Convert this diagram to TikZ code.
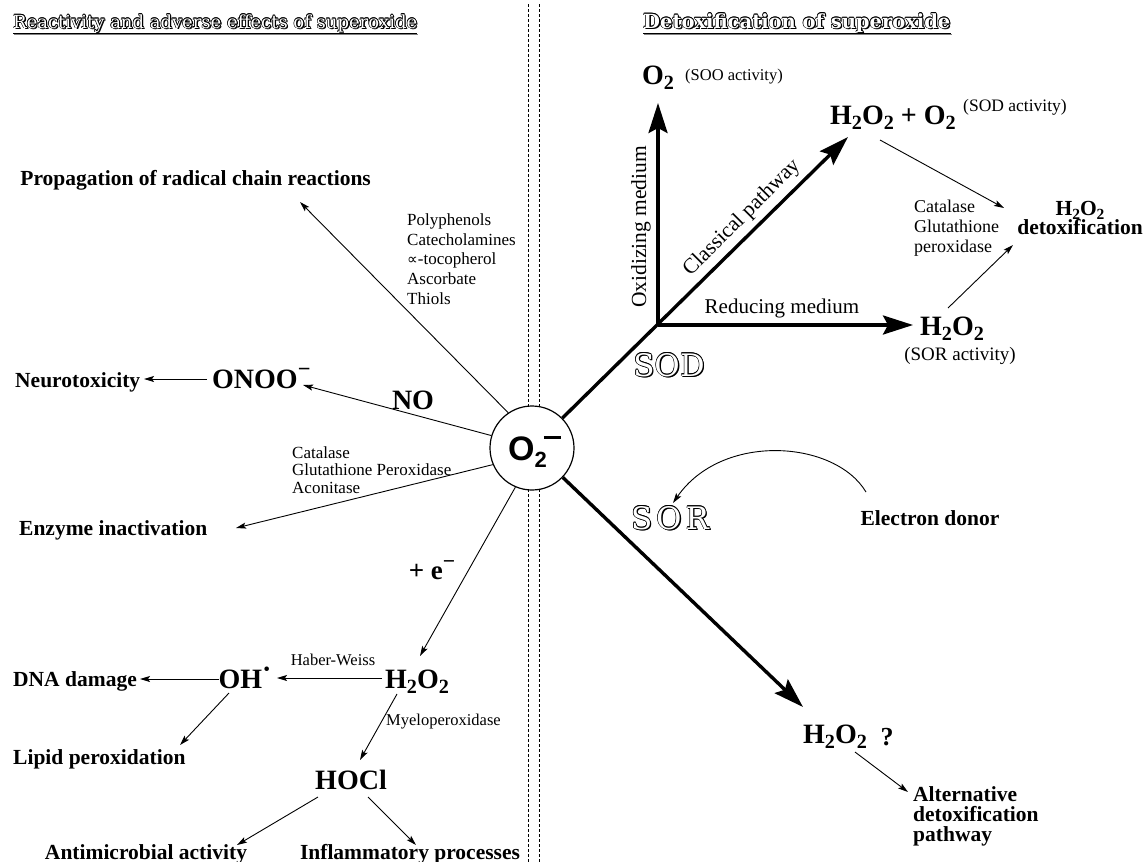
\documentclass[tikz,border=0pt]{standalone}
\usepackage{graphicx}
\usepackage{fontspec}
\setmainfont{Liberation Serif}
\newfontfamily\hsans{Liberation Sans}
\newfontfamily\hserif{DejaVu Serif}
\newfontfamily\dvsans{DejaVu Sans}
\usetikzlibrary{arrows.meta,calc}
\newcommand\sbs[1]{\raisebox{-0.2em}{\scalebox{0.72}{#1}}}
\newcommand\supm{\raisebox{0.42em}{\scalebox{0.8}{−}}}
\newcommand\otext[5]{%
  \foreach \dx/\dy [count=\k] in {1.3/-1.3, 0.9/-0.9, 0.55/0, -0.55/0, 0/0.55, 0/-0.55, 0.4/0.4, -0.4/0.4, 0.4/-0.4, -0.4/-0.4}{%
    \node[inner sep=0pt, #4, text=black] (#1-\k) at ($(#2,#3)+(\dx pt,\dy pt)$) {#5};}%
  \node[inner sep=0pt, #4, text=white] (#1) at (#2,#3) {#5};}
\begin{document}
\begin{tikzpicture}[x=1pt,y=-1pt,
 lbl/.style={font=\fontsize{21.5}{20}\selectfont\bfseries, inner sep=0pt},
 sm/.style={font=\fontsize{17}{19.6}\selectfont, inner sep=0pt, align=left},
 chem/.style={font=\fontsize{28}{30}\selectfont\bfseries, inner sep=0pt},
 arr/.style={line width=0.9pt, -{Stealth[length=10pt,width=6pt,inset=2pt]}},
 bigarr/.style={line width=3.4pt, -{Stealth[length=30pt,width=19pt,inset=5pt]}},
 sep/.style={line width=0.8pt, dash pattern=on 3pt off 2pt}]
\useasboundingbox[fill=white] (0,0) rectangle (1146,862);

% separator
\draw[sep] (528,4) -- (528,407);
\draw[sep] (539,4) -- (539,407);
\draw[sep] (528,489) -- (528,862);
\draw[sep] (539,489) -- (539,862);

% headers
\otext{hl}{13}{28}{anchor=base west, font=\hserif\fontsize{18}{20}\selectfont}{Reactivity and adverse effects of superoxide}
\draw[gray, line width=1pt] ($(hl.base west)+(1pt,-6pt)$) -- ($(hl.base east)+(1pt,-6pt)$);
\draw[line width=0.9pt] ($(hl.base west)+(0,-5pt)$) -- ($(hl.base east)+(0,-5pt)$);
\otext{hr}{643}{28}{anchor=base west, font=\hserif\bfseries\fontsize{19.5}{20}\selectfont}{Detoxification of superoxide}
\draw[gray, line width=1pt] ($(hr.base west)+(1pt,-6pt)$) -- ($(hr.base east)+(1pt,-6pt)$);
\draw[line width=0.9pt] ($(hr.base west)+(0,-5pt)$) -- ($(hr.base east)+(0,-5pt)$);

% central superoxide
\node[circle, draw, line width=1.2pt, minimum size=84pt, inner sep=0pt] (c) at (532,448) {};
\node[anchor=base west, inner sep=0pt, font=\hsans\bfseries\fontsize{34}{34}\selectfont] (o2m) at (508,460) {O\raisebox{-7pt}{\fontsize{22}{22}\selectfont 2}\kern-3pt\raisebox{21.5pt}{\rule{17pt}{2.6pt}}};

% ---------- right side ----------
\coordinate (o) at (658,325);
\coordinate (t1) at (848,137);
\node[chem, anchor=base west] (o2top) at (642,84) {O\sbs{2}};
\node[font=\fontsize{16.5}{18}\selectfont, inner sep=0pt, anchor=base west] (sooact) at (685,80) {(SOO activity)};
\coordinate (tv) at (658,103);
\draw[bigarr] (o) -- (tv);
\node[font=\fontsize{21.5}{22}\selectfont, inner sep=0pt, rotate=90] (oxid) at (641,227) {Oxidizing medium};
\draw[bigarr] (c) -- (t1);
\node[font=\fontsize{21.5}{22}\selectfont, inner sep=0pt, rotate=45] (class) at (742,218) {Classical pathway};
\node[chem, anchor=base west] (h2o2o2) at (830,124) {H\sbs{2}O\sbs{2} + O\sbs{2}};
\node[font=\fontsize{17.5}{18}\selectfont, inner sep=0pt, anchor=base west] (sodact) at (963,111) {(SOD activity)};
\node[font=\fontsize{18}{20}\selectfont, inner sep=0pt, align=left, anchor=west] (catR) at (914,228) {Catalase\\Glutathione\\peroxidase};
\node[lbl, align=center] (detox) at (1080,218) {H\sbs{2}O\sbs{2}\\[-1pt]detoxification};
\coordinate (a1s) at (880,140);
\coordinate (a1e) at (1004,208);
\draw[arr] (a1s) -- (a1e);
\node[font=\fontsize{21}{22}\selectfont, inner sep=0pt] (red) at (782,308) {Reducing medium};
\coordinate (th) at (913,325);
\draw[bigarr] (o) -- (th);
\node[chem, anchor=base] (h2sor) at (952,335) {H\sbs{2}O\sbs{2}};
\node[font=\fontsize{19}{20}\selectfont, inner sep=0pt] (soract) at (960,356) {(SOR activity)};
\coordinate (a2s) at (948,308);
\coordinate (a2e) at (1013,245);
\draw[arr] (a2s) -- (a2e);
\otext{sod}{669}{365}{font=\hserif\fontsize{31}{32}\selectfont}{SOD}
\otext{sor}{670}{518}{font=\hserif\fontsize{31}{32}\selectfont}{S\kern4pt O\kern4pt R}
\node[lbl] (edon) at (930,518) {Electron donor};
\coordinate (cs) at (866,492);
\coordinate (ce) at (673,503);
\draw[arr] (cs) .. controls (835,440) and (722,432) .. (ce);
\coordinate (t2) at (803,707);
\draw[bigarr] (c) -- (t2);
\node[chem, anchor=base] (h2alt) at (835,743) {H\sbs{2}O\sbs{2}};
\node[font=\fontsize{26}{26}\selectfont\bfseries, inner sep=0pt] (q) at (887,737) {?};
\coordinate (a3s) at (855,752);
\coordinate (a3e) at (908,792);
\draw[arr] (a3s) -- (a3e);
\node[font=\fontsize{21.5}{20}\selectfont\bfseries, inner sep=0pt, align=left, anchor=north west] (alt) at (913,786) {Alternative\\detoxification\\pathway};

% ---------- left side ----------
\node[lbl, anchor=base east] (prop) at (371,185) {Propagation of radical chain reactions};
\coordinate (tp) at (300,202);
\draw[arr] (c.124) -- (tp);
\node[sm, anchor=west] (poly) at (407,259) {Polyphenols\\Catecholamines\\{\dvsans\fontsize{15}{17}\selectfont ∝}-tocopherol\\Ascorbate\\Thiols};
\node[chem, anchor=base west] (onoo) at (212,388) {ONOO\supm};
\node[lbl, anchor=base west] (neuro) at (15,387) {Neurotoxicity};
\coordinate (onw) at (207,379);
\coordinate (nee) at (144,379);
\draw[arr] (onw) -- (nee);
\coordinate (tono) at (303,385);
\draw[arr] (c.163) -- (tono);
\node[chem] (no) at (413,400) {NO};
\node[font=\fontsize{17}{17.5}\selectfont, inner sep=0pt, align=left, anchor=west] (catL) at (292,470) {Catalase\\Glutathione Peroxidase\\Aconitase};
\coordinate (tenz) at (236,528);
\draw[arr] (c.203) -- (tenz);
\node[lbl, anchor=base west] (enz) at (19,535) {Enzyme inactivation};
\node[font=\fontsize{27}{27}\selectfont\bfseries, inner sep=0pt] (pe) at (432,570) {+ e\supm};
\coordinate (th2) at (420,656);
\draw[arr] (c.247) -- (th2);
\node[chem, anchor=base] (h2l) at (417,688) {H\sbs{2}O\sbs{2}};
\node[chem, anchor=base] (oh) at (245,688) {OH\raisebox{0.35em}{·}};
\coordinate (hws) at (382,678);
\coordinate (hwe) at (277,678);
\draw[arr] (hws) -- (hwe);
\node[font=\fontsize{16.5}{17}\selectfont, inner sep=0pt] (hw) at (333,660) {Haber-Weiss};
\node[lbl, anchor=base west] (dna) at (13,686) {DNA damage};
\coordinate (ohw) at (219,679);
\coordinate (dnae) at (140,679);
\draw[arr] (ohw) -- (dnae);
\coordinate (ohs) at (229,693);
\coordinate (lpe) at (180,745);
\draw[arr] (ohs) -- (lpe);
\node[lbl, anchor=base west] (lip) at (13,764) {Lipid peroxidation};
\coordinate (mys) at (397,694);
\coordinate (mye) at (360,760);
\draw[arr] (mys) -- (mye);
\node[font=\fontsize{16.5}{17}\selectfont, inner sep=0pt, anchor=west] (myelo) at (386,722) {Myeloperoxidase};
\node[chem, anchor=base] (hocl) at (351,789) {HOCl};
\coordinate (hc1) at (318,797);
\coordinate (hc1e) at (237,845);
\coordinate (hc2) at (368,797);
\coordinate (hc2e) at (416,845);
\draw[arr] (hc1) -- (hc1e);
\draw[arr] (hc2) -- (hc2e);
\node[lbl, anchor=base] (anti) at (146,859) {Antimicrobial activity};
\node[lbl, anchor=base] (infl) at (410,859) {Inflammatory processes};
\end{tikzpicture}
\end{document}
